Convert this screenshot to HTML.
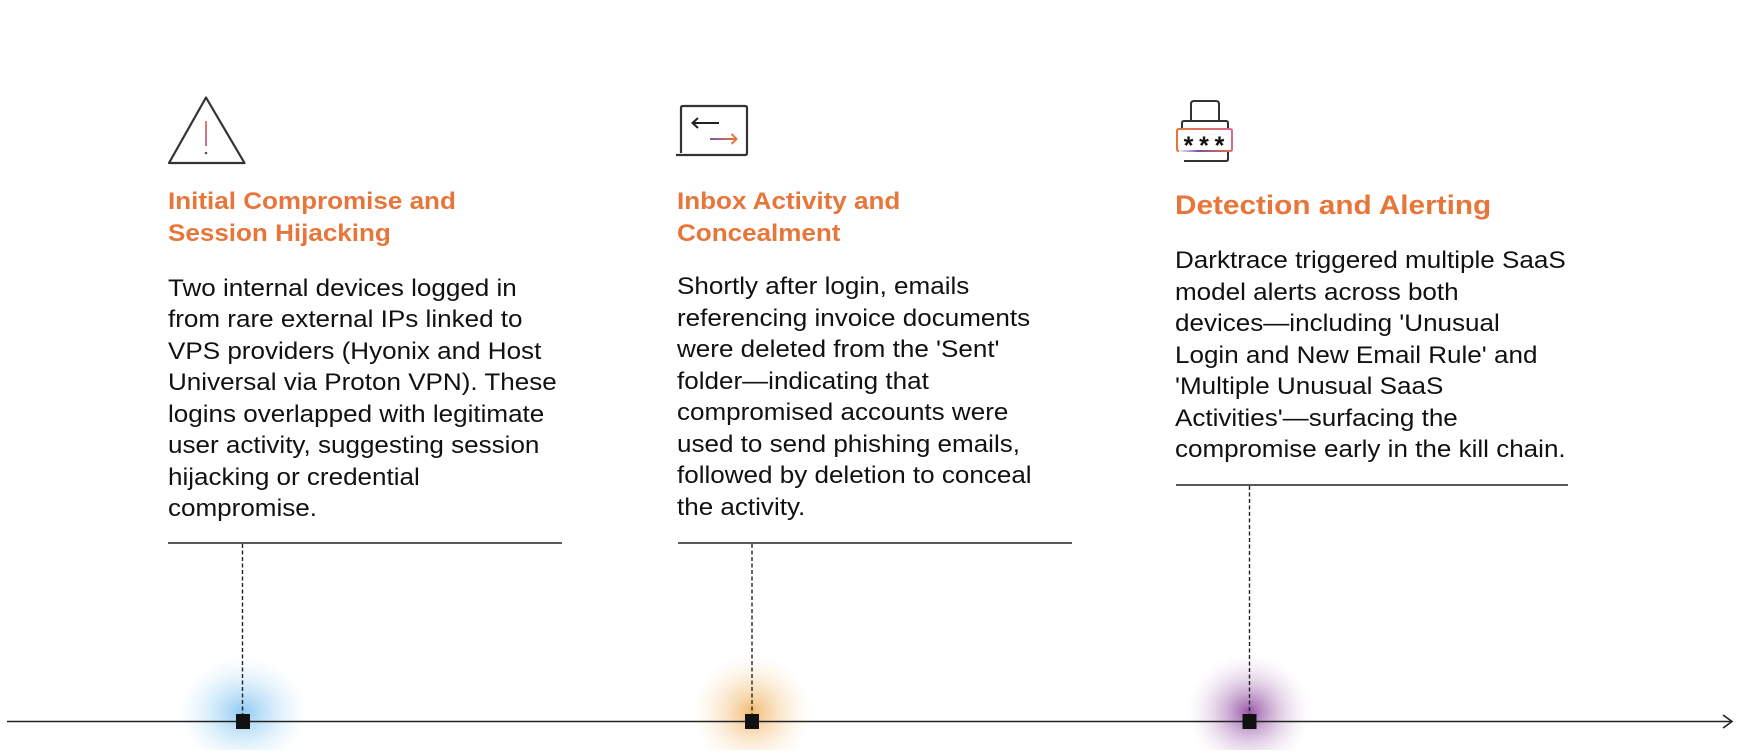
<!DOCTYPE html>
<html>
<head>
<meta charset="utf-8">
<style>
  html, body { margin:0; padding:0; background:#ffffff; }
  body { width:1758px; height:754px; position:relative; overflow:hidden; }
  .t { position:absolute; white-space:nowrap; transform:scaleX(1.094); transform-origin:0 0;
       font-family:"Liberation Sans", Arial, sans-serif; }
  .h { color:#e7763a; font-weight:bold; font-size:23.8px; line-height:32.3px; }
  .h3 { color:#e7763a; font-weight:bold; font-size:27.2px; line-height:34px; }
  .b { color:#111; font-size:23.8px; line-height:31.5px; }
  svg { position:absolute; left:0; top:0; }
</style>
</head>
<body>
<svg width="1758" height="754" viewBox="0 0 1758 754" xmlns="http://www.w3.org/2000/svg">
  <defs>
    <radialGradient id="gb" cx="0.5" cy="0.5" r="0.5">
      <stop offset="0" stop-color="#7cc0f0" stop-opacity="0.85"/>
      <stop offset="0.45" stop-color="#a5d5f6" stop-opacity="0.5"/>
      <stop offset="1" stop-color="#d8eefc" stop-opacity="0"/>
    </radialGradient>
    <radialGradient id="go" cx="0.5" cy="0.5" r="0.5">
      <stop offset="0" stop-color="#f0ad5c" stop-opacity="0.85"/>
      <stop offset="0.45" stop-color="#f5cc93" stop-opacity="0.5"/>
      <stop offset="1" stop-color="#fbe8cc" stop-opacity="0"/>
    </radialGradient>
    <radialGradient id="gp" cx="0.5" cy="0.5" r="0.5">
      <stop offset="0" stop-color="#86399a" stop-opacity="0.85"/>
      <stop offset="0.45" stop-color="#b587be" stop-opacity="0.5"/>
      <stop offset="1" stop-color="#e6d4ea" stop-opacity="0"/>
    </radialGradient>
    <linearGradient id="ex" gradientUnits="userSpaceOnUse" x1="0" y1="121" x2="0" y2="147">
      <stop offset="0" stop-color="#e0705a"/>
      <stop offset="1" stop-color="#b8608a"/>
    </linearGradient>
    <linearGradient id="ar" gradientUnits="userSpaceOnUse" x1="710" y1="0" x2="737" y2="0">
      <stop offset="0" stop-color="#7a5ab0"/>
      <stop offset="1" stop-color="#e8763a"/>
    </linearGradient>
    <linearGradient id="lk" gradientUnits="userSpaceOnUse" x1="1177" y1="0" x2="1232" y2="0">
      <stop offset="0" stop-color="#e8763a"/>
      <stop offset="1" stop-color="#d8688c"/>
    </linearGradient>
    <linearGradient id="lkb" gradientUnits="userSpaceOnUse" x1="1177" y1="0" x2="1232" y2="0">
      <stop offset="0" stop-color="#ffffff"/>
      <stop offset="0.4" stop-color="#7a4fa8"/>
      <stop offset="1" stop-color="#e8763a"/>
    </linearGradient>
    <clipPath id="cl"><rect x="0" y="0" width="1758" height="750"/></clipPath>
  </defs>

  <!-- glows -->
  <g clip-path="url(#cl)">
    <ellipse cx="243" cy="712" rx="66" ry="56" fill="url(#gb)"/>
    <ellipse cx="752" cy="712" rx="60" ry="58" fill="url(#go)"/>
    <ellipse cx="1249" cy="712" rx="62" ry="58" fill="url(#gp)"/>
  </g>

  <!-- timeline -->
  <line x1="7" y1="721.5" x2="1731" y2="721.5" stroke="#222" stroke-width="1.6"/>
  <polyline points="1723,715 1732,721.5 1723,728" fill="none" stroke="#222" stroke-width="1.6"/>

  <!-- rules -->
  <line x1="168" y1="543" x2="562" y2="543" stroke="#222" stroke-width="1.6"/>
  <line x1="678" y1="543" x2="1072" y2="543" stroke="#222" stroke-width="1.6"/>
  <line x1="1176" y1="485" x2="1568" y2="485" stroke="#222" stroke-width="1.6"/>

  <!-- dashed connectors -->
  <line x1="242.5" y1="544" x2="242.5" y2="714" stroke="#222" stroke-width="1.4" stroke-dasharray="4 2.5"/>
  <line x1="752" y1="544" x2="752" y2="714" stroke="#222" stroke-width="1.4" stroke-dasharray="4 2.5"/>
  <line x1="1249.5" y1="486" x2="1249.5" y2="714" stroke="#222" stroke-width="1.4" stroke-dasharray="4 2.5"/>

  <!-- squares -->
  <rect x="236" y="714" width="14" height="15" fill="#111"/>
  <rect x="745" y="714" width="14" height="15" fill="#111"/>
  <rect x="1242.5" y="714" width="14" height="15" fill="#111"/>

  <!-- icon 1: warning triangle -->
  <polygon points="169,163 206,97.5 244.5,163" fill="none" stroke="#333" stroke-width="2.2" stroke-linejoin="round"/>
  <line x1="206" y1="121" x2="206" y2="146" stroke="url(#ex)" stroke-width="1.8"/>
  <circle cx="206" cy="153" r="1.3" fill="#555"/>

  <!-- icon 2: inbox arrows -->
  <path d="M681,153 V108 q0,-2 2,-2 H745 q2,0 2,2 V153 q0,2 -2,2 H676" fill="none" stroke="#333" stroke-width="2.2"/>
  <line x1="692.5" y1="123" x2="719" y2="123" stroke="#222" stroke-width="2"/>
  <polyline points="698,118 692.5,123 698,128" fill="none" stroke="#222" stroke-width="2"/>
  <line x1="710" y1="139" x2="736.5" y2="139" stroke="url(#ar)" stroke-width="2"/>
  <polyline points="731.5,134 736.5,139 731.5,144" fill="none" stroke="#e8763a" stroke-width="2"/>

  <!-- icon 3: password lock -->
  <path d="M1191,121 V104 q0,-3 3,-3 H1216 q3,0 3,3 V121" fill="none" stroke="#333" stroke-width="2"/>
  <path d="M1182,129 V123 q0,-2 2,-2 H1226 q2,0 2,2 V129" fill="none" stroke="#333" stroke-width="2"/>
  <path d="M1228,151 V159 q0,2 -2,2 H1184" fill="none" stroke="#333" stroke-width="2"/>
  <path d="M1179,151 q-2,0 -2,-2 V131 q0,-2 2,-2 H1230 q2,0 2,2 V149 q0,2 -2,2" fill="#fff" stroke="url(#lk)" stroke-width="2"/>
  <line x1="1179" y1="151" x2="1230" y2="151" stroke="url(#lkb)" stroke-width="2"/>
  <text x="1188.5" y="154" text-anchor="middle" font-family="Liberation Sans, Arial, sans-serif" font-weight="bold" font-size="25" fill="#111">*</text>
  <text x="1204" y="154" text-anchor="middle" font-family="Liberation Sans, Arial, sans-serif" font-weight="bold" font-size="25" fill="#111">*</text>
  <text x="1219.5" y="154" text-anchor="middle" font-family="Liberation Sans, Arial, sans-serif" font-weight="bold" font-size="25" fill="#111">*</text>
</svg>

<!-- Column 1 -->
<div class="t h" style="left:167.5px; top:185.6px;">Initial Compromise and<br>Session Hijacking</div>
<div class="t b" style="left:167.5px; top:272.5px;">Two internal devices logged in<br>from rare external IPs linked to<br>VPS providers (Hyonix and Host<br>Universal via Proton VPN). These<br>logins overlapped with legitimate<br>user activity, suggesting session<br>hijacking or credential<br>compromise.</div>

<!-- Column 2 -->
<div class="t h" style="left:677px; top:185.6px;">Inbox Activity and<br>Concealment</div>
<div class="t b" style="left:677px; top:271px;">Shortly after login, emails<br>referencing invoice documents<br>were deleted from the 'Sent'<br>folder—indicating that<br>compromised accounts were<br>used to send phishing emails,<br>followed by deletion to conceal<br>the activity.</div>

<!-- Column 3 -->
<div class="t h3" style="left:1175px; top:187.6px;">Detection and Alerting</div>
<div class="t b" style="left:1175px; top:245.3px;">Darktrace triggered multiple SaaS<br>model alerts across both<br>devices—including 'Unusual<br>Login and New Email Rule' and<br>'Multiple Unusual SaaS<br>Activities'—surfacing the<br>compromise early in the kill chain.</div>
</body>
</html>
